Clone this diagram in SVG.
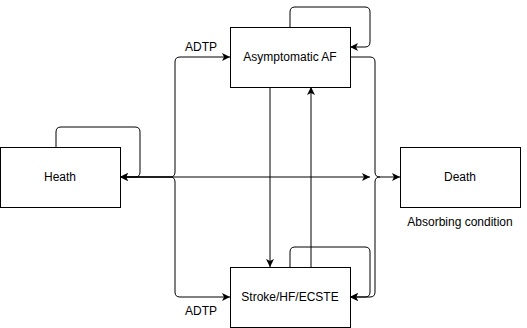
<svg xmlns="http://www.w3.org/2000/svg" width="527" height="328" viewBox="0 0 527 328">
  <style>
    .box { fill: #ffffff; stroke: #000000; stroke-width: 1; }
    .edge { fill: none; stroke: #000000; stroke-width: 1; }
    .arr { marker-end: url(#arrow); }
    text { font-family: "Liberation Sans", Arial, Helvetica, sans-serif; font-size: 12px; fill: #000000; text-anchor: middle; }
  </style>
  <defs>
    <marker id="arrow" viewBox="0 0 8 8" refX="8" refY="4" markerWidth="8" markerHeight="8" markerUnits="userSpaceOnUse" orient="auto-start-reverse">
      <path d="M0,0 L8,4 L0,8 L2,4 Z" fill="#000000"/>
    </marker>
  </defs>

  <rect width="527" height="328" fill="#ffffff"/>

  <g id="connectors">
    <!-- Heath self-transition -->
    <path class="edge arr" d="M56,147 V132 Q56,127 61,127 H135 Q140,127 140,132 V172 Q140,177 135,177 H120"/>
    <!-- Heath / Death horizontal -->
    <path class="edge arr" style="marker-start:url(#arrow)" d="M120,177 H370"/>
    <!-- Heath to Asymptomatic AF (ADTP) -->
    <path class="edge arr" d="M120,177 H170 Q175,177 175,172 V62 Q175,57 180,57 H230"/>
    <!-- Heath to Stroke/HF/ECSTE (ADTP) -->
    <path class="edge arr" d="M120,177 H170 Q175,177 175,182 V292 Q175,297 180,297 H230"/>
    <!-- Asymptomatic AF to Stroke -->
    <path class="edge arr" d="M270,87 V267"/>
    <!-- Stroke to Asymptomatic AF -->
    <path class="edge arr" d="M311,267 V87"/>
    <!-- Asymptomatic AF self-transition -->
    <path class="edge arr" d="M290,27 V12 Q290,7 295,7 H365 Q370,7 370,12 V42 Q370,47 365,47 H350"/>
    <!-- Asymptomatic AF to Death -->
    <path class="edge arr" d="M350,57 H370 Q375,57 375,62 V172 Q375,177 380,177 H400"/>
    <!-- right-hand branch into Stroke -->
    <path class="edge arr" d="M380,177 Q375,177 375,182 V292 Q375,297 370,297 H350"/>
    <!-- Stroke self-transition -->
    <path class="edge arr" d="M290,267 V252 Q290,247 295,247 H365 Q370,247 370,252 V292 Q370,297 365,297 H350"/>
    <text x="201" y="51">ADTP</text>
    <text x="201" y="315">ADTP</text>
  </g>

  <g id="node-heath">
    <rect class="box" x="0.5" y="147.5" width="120" height="60"/>
    <text x="60" y="181">Heath</text>
  </g>
  <g id="node-asymptomatic-af">
    <rect class="box" x="230.5" y="27.5" width="120" height="60"/>
    <text x="290" y="61">Asymptomatic AF</text>
  </g>
  <g id="node-stroke">
    <rect class="box" x="230.5" y="267.5" width="120" height="60"/>
    <text x="290" y="301">Stroke/HF/ECSTE</text>
  </g>
  <g id="node-death">
    <rect class="box" x="400.5" y="147.5" width="120" height="60"/>
    <text x="460" y="181">Death</text>
    <text x="460" y="226">Absorbing condition</text>
  </g>
</svg>
